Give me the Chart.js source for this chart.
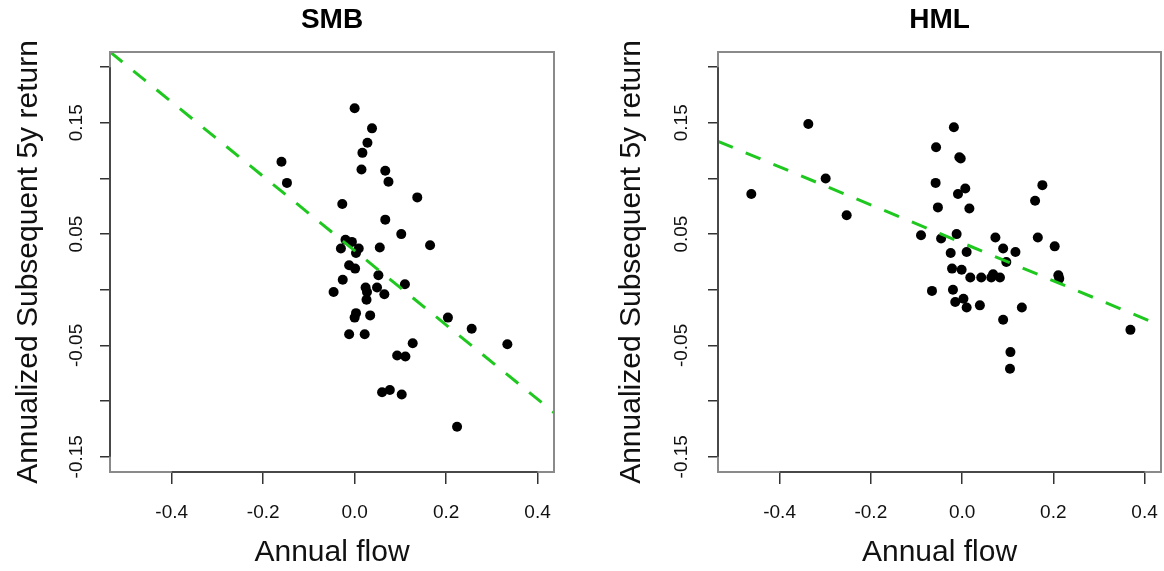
<!DOCTYPE html>
<html>
<head>
<meta charset="utf-8">
<script src="https://cdn.jsdelivr.net/npm/chart.js@4.4.1/dist/chart.umd.min.js"></script>
<style>
  html, body { margin: 0; padding: 0; background: #fff; }
  #wrap { position: relative; width: 1164px; height: 571px; overflow: hidden; }
  canvas { position: absolute; top: 0; }
</style>
</head>
<body>
<div id="wrap">
  <canvas id="c1" width="582" height="571" style="left:0px;width:582px;height:571px"></canvas>
  <canvas id="c2" width="564" height="571" style="left:600px;width:564px;height:571px"></canvas>
</div>
<script>
// ---- data ----
const panelTitles = ['SMB', 'HML'];
const xTitle = 'Annual flow';
const yTitle = 'Annualized Subsequent 5y return';

const smbFlow = [0.000,0.038,0.028,0.017,0.015,0.067,0.074,-0.160,-0.148,0.137,-0.027,0.067,0.102,0.165,-0.020,-0.006,-0.030,0.009,0.003,0.055,-0.012,0.001,-0.026,0.052,-0.046,0.024,0.027,0.049,0.065,0.110,0.026,0.003,0.000,0.034,-0.012,0.022,0.204,0.256,0.334,0.127,0.093,0.111,0.060,0.077,0.103,0.224];
const smbRet  = [0.163,0.145,0.132,0.123,0.108,0.107,0.097,0.115,0.096,0.083,0.077,0.063,0.050,0.040,0.045,0.043,0.037,0.037,0.033,0.038,0.022,0.019,0.009,0.013,-0.002,0.002,-0.002,0.002,-0.004,0.005,-0.009,-0.021,-0.025,-0.023,-0.040,-0.040,-0.025,-0.035,-0.049,-0.048,-0.059,-0.060,-0.092,-0.090,-0.094,-0.123];

const hmlFlow = [-0.337,-0.462,-0.299,-0.253,-0.018,-0.057,-0.006,-0.003,-0.058,0.007,-0.009,-0.053,0.016,0.176,0.160,-0.090,-0.046,-0.012,0.073,0.166,0.203,-0.025,0.010,0.090,0.117,0.097,-0.022,-0.001,0.018,0.042,0.064,0.068,0.083,0.211,0.213,-0.066,-0.020,-0.015,0.003,0.010,0.039,0.131,0.090,0.369,0.106,0.105];
const hmlRet  = [0.149,0.086,0.100,0.067,0.146,0.128,0.119,0.118,0.096,0.091,0.086,0.074,0.073,0.094,0.080,0.049,0.046,0.050,0.047,0.047,0.039,0.033,0.034,0.037,0.034,0.025,0.019,0.018,0.011,0.011,0.011,0.014,0.011,0.013,0.010,-0.001,0.000,-0.011,-0.008,-0.016,-0.014,-0.016,-0.027,-0.036,-0.056,-0.071];

// fitted (dashed) line endpoints
const smbLineX = [-0.535, 0.436];
const smbLineY = [0.2137, -0.1103];
const hmlLineX = [-0.535, 0.436];
const hmlLineY = [0.1334, -0.0322];

// axis ranges and ticks
const xRange = [-0.535, 0.436];
const yRange = [-0.1637, 0.2136];
const xTickStep = 0.2;
const yTickStep = 0.05;
const yTickLabels = [-0.15, -0.05, 0.05, 0.15];
const xTickFirst = -0.4, xTickLast = 0.4;
const yTickFirst = -0.15, yTickLast = 0.20;

const FONT = '"Liberation Sans", Arial, Helvetica, sans-serif';

function toPts(xs, ys) { return xs.map((x, i) => ({x: x, y: ys[i]})); }

function makeChart(canvasId, title, fx, fy, lx, ly, geo) {
  const decor = {
    id: 'decor' + canvasId,
    afterDraw(chart) {
      const ctx = chart.ctx;
      const a = chart.chartArea;
      const xs = chart.scales.x, ys = chart.scales.y;
      ctx.save();
      // box
      ctx.strokeStyle = '#8a8a8a';
      ctx.lineWidth = 2;
      ctx.strokeRect(a.left, a.top, a.right - a.left, a.bottom - a.top);
      // axis lines over tick span
      ctx.strokeStyle = '#333';
      ctx.lineWidth = 1.5;
      ctx.beginPath();
      ctx.moveTo(xs.getPixelForValue(xTickFirst), a.bottom);
      ctx.lineTo(xs.getPixelForValue(xTickLast), a.bottom);
      ctx.moveTo(a.left, ys.getPixelForValue(yTickFirst));
      ctx.lineTo(a.left, ys.getPixelForValue(yTickLast));
      ctx.stroke();
      // title
      ctx.fillStyle = '#000';
      ctx.font = 'bold 28px ' + FONT;
      ctx.textAlign = 'center';
      ctx.textBaseline = 'alphabetic';
      ctx.fillText(title, (a.left + a.right) / 2, 28);
      // rotated y tick labels
      ctx.font = '19px ' + FONT;
      ctx.fillStyle = '#111';
      ctx.textBaseline = 'middle';
      yTickLabels.forEach(v => {
        const py = ys.getPixelForValue(v);
        ctx.save();
        ctx.translate(geo.yTickX, py);
        ctx.rotate(-Math.PI / 2);
        ctx.fillText(v.toFixed(2), 0, 0);
        ctx.restore();
      });
      ctx.restore();
    }
  };

  return new Chart(document.getElementById(canvasId), {
    type: 'scatter',
    data: {
      datasets: [
        {
          type: 'line',
          data: toPts(lx, ly),
          borderColor: '#1ec81e',
          borderWidth: 3,
          borderDash: [16, 14],
          pointRadius: 0,
          fill: false,
          tension: 0
        },
        {
          data: toPts(fx, fy),
          backgroundColor: '#000',
          borderColor: '#000',
          borderWidth: 0,
          pointRadius: 5,
          pointHoverRadius: 5
        }
      ]
    },
    options: {
      responsive: false,
      animation: false,
      devicePixelRatio: 1,
      events: [],
      layout: { autoPadding: false, padding: { top: 52, right: geo.padRight, left: 0, bottom: 0 } },
      plugins: { legend: { display: false }, tooltip: { enabled: false }, title: { display: false } },
      scales: {
        x: {
          type: 'linear',
          min: xRange[0], max: xRange[1],
          afterFit(s) { s.height = 99; s.paddingLeft = 0; s.paddingRight = 0; },
          grid: { display: true, drawOnChartArea: false, drawTicks: true, tickLength: 12, color: '#333', lineWidth: 1.5 },
          border: { display: false },
          ticks: {
            stepSize: xTickStep, includeBounds: false, autoSkip: false, maxRotation: 0, minRotation: 0,
            padding: 17, color: '#111', font: { family: FONT, size: 19 },
            callback: v => (Math.abs(v) < 1e-9 ? 0 : v).toFixed(1)
          },
          title: { display: true, text: xTitle, color: '#111', font: { family: FONT, size: 30, lineHeight: 1 }, padding: { top: 0, bottom: 3 } }
        },
        y: {
          type: 'linear',
          min: yRange[0], max: yRange[1],
          afterFit(s) { s.width = geo.yWidth; s.paddingTop = 0; s.paddingBottom = 0; },
          grid: { display: true, drawOnChartArea: false, drawTicks: true, tickLength: 10, color: '#333', lineWidth: 1.5 },
          border: { display: false },
          ticks: {
            stepSize: yTickStep, includeBounds: false, autoSkip: false,
            color: 'rgba(0,0,0,0)', font: { family: FONT, size: 19 },
            callback: () => ''
          },
          title: { display: true, text: yTitle, color: '#111', font: { family: FONT, size: 30, lineHeight: 1 }, padding: { top: geo.yTitlePad, bottom: 0 } }
        }
      }
    },
    plugins: [decor]
  });
}

makeChart('c1', panelTitles[0], smbFlow, smbRet, smbLineX, smbLineY,
  { padRight: 28, yWidth: 110, yTitlePad: 14, yTickX: 77 });
makeChart('c2', panelTitles[1], hmlFlow, hmlRet, hmlLineX, hmlLineY,
  { padRight: 3, yWidth: 118, yTitlePad: 17, yTickX: 82 });
</script>
</body>
</html>
